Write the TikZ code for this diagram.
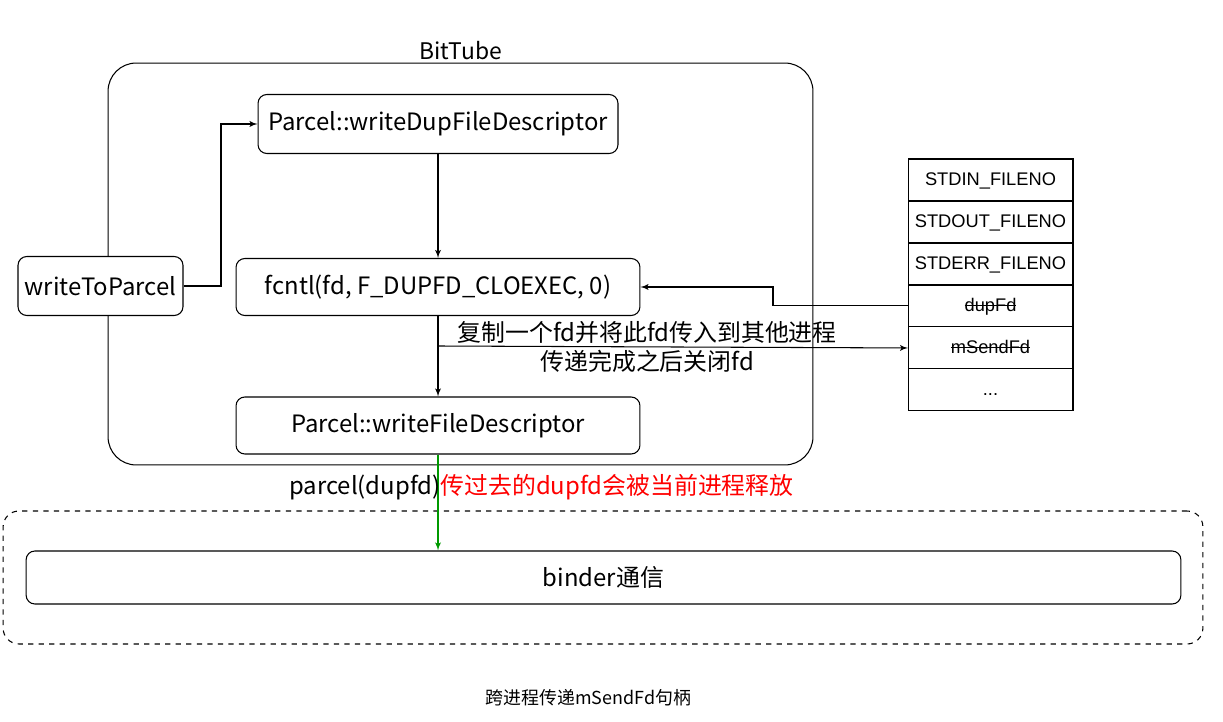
\documentclass[tikz,border=0pt]{standalone}
\usepackage{fontspec}
\setmainfont{Noto Sans CJK SC}
\newfontfamily\tablefont{Liberation Sans}
\usetikzlibrary{arrows,positioning}

\definecolor{tubered}{HTML}{FF0000}
\definecolor{tubegreen}{HTML}{009900}

\newsavebox\strikebox
\newcommand\strikeout[1]{\sbox\strikebox{#1}\rlap{\raisebox{0.3em}{\rule{\wd\strikebox}{0.5pt}}}\usebox\strikebox}

\begin{document}
\begin{tikzpicture}[x=0.02cm, y=-0.02cm, line width=0.6pt,
    block/.style={rectangle, draw, rounded corners=5pt, font=\fontsize{13.6}{16}\selectfont, inner sep=0pt},
    cell/.style={rectangle, draw, minimum width=3.3cm, minimum height=0.84cm, inner sep=0pt, outer sep=0pt,
        text height=1.6ex, text depth=0.4ex, font=\tablefont\fontsize{10.4}{12}\selectfont},
    line/.style={draw, -latex'},
    container/.style={rectangle, draw, inner sep=0pt}]

    \useasboundingbox (0,0) rectangle (1223,722);

    % Containers
    \node [container, rounded corners=16pt, minimum width=14.1cm, minimum height=8.04cm,
        label={[font=\fontsize{13}{16}\selectfont, inner sep=1pt]above:BitTube}] (bittube) at (460.5,264) {};
    \node [container, dashed, rounded corners=9pt, minimum width=24cm, minimum height=2.66cm] (ipc) at (603,577.5) {};

    % Nodes
    \node [block, minimum width=7.2cm, minimum height=1.18cm] (writedup) at (438,124) {Parcel::writeDupFileDescriptor};
    \node [block, minimum width=8.08cm, minimum height=1.14cm] (fcntl) at (438,287) {fcntl(fd, F\_DUPFD\_CLOEXEC, 0)};
    \node [block, minimum width=8.08cm, minimum height=1.14cm] (writefd) at (438,425.5) {Parcel::writeFileDescriptor};
    \node [block, minimum width=3.3cm, minimum height=1.18cm, fill=white] (writeparcel) at (100.5,286) {writeToParcel};
    \node [block, minimum width=23.1cm, minimum height=1.06cm] (binder) at (603.5,577.5) {binder通信};

    % Fd table
    \node [cell] (stdin) at (990.5,180) {STDIN\_FILENO};
    \node [cell, below=0pt of stdin] (stdout) {STDOUT\_FILENO};
    \node [cell, below=0pt of stdout] (stderr) {STDERR\_FILENO};
    \node [cell, below=0pt of stderr] (dupfd) {\strikeout{dupFd}};
    \node [cell, below=0pt of dupfd] (sendfd) {\strikeout{mSendFd}};
    \node [cell, below=0pt of sendfd] (more) {...};

    % Edges
    \path [line] (writeparcel.east) -| (221,124) -- (writedup.west);
    \path [line] (writedup) -- (fcntl);
    \path [line] (fcntl) -- (writefd);
    \coordinate (split) at (438,346);
    \path [line] (split) -- node[pos=0.445, above=-2pt, font=\fontsize{13.6}{16}\selectfont] {复制一个fd并将此fd传入到其他进程}
        node[pos=0.445, below=-2pt, font=\fontsize{13.6}{16}\selectfont] {传递完成之后关闭fd} (sendfd.west);
    \path [line] (dupfd.west) -| (773,287) -- (fcntl.east);
    \path [line, draw=tubegreen, -latex'] (writefd.south) -- (writefd.south |- binder.north);

    % Annotations
    \node [font=\fontsize{13.6}{16}\selectfont] (release) at (541.5,487) {parcel(dupfd)\textcolor{tubered}{传过去的dupfd会被当前进程释放}};
    \node [font=\fontsize{10.2}{12}\selectfont] (caption) at (588.5,698) {跨进程传递mSendFd句柄};
\end{tikzpicture}
\end{document}
